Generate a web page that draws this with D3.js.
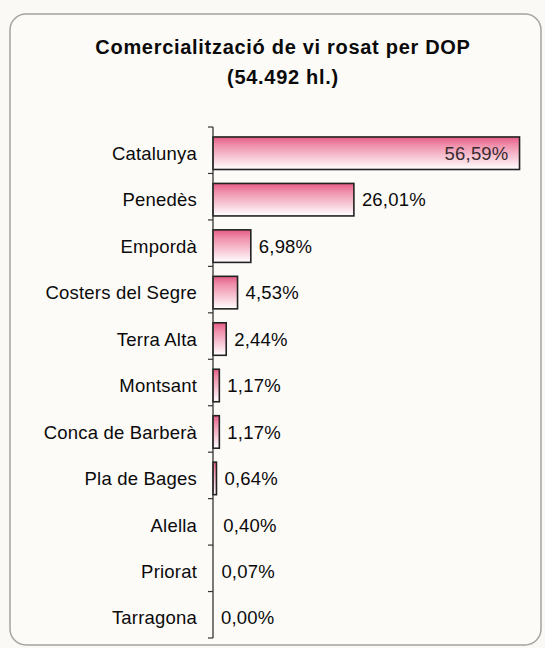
<!DOCTYPE html>
<html>
<head>
  <meta charset="utf-8">
  <title>Comercialització de vi rosat per DOP</title>
  <script src="https://d3js.org/d3.v7.min.js"></script>
  <style>
    body { margin: 0; background: #fbf9f5; }
    svg { display: block; font-family: "Liberation Sans", Arial, sans-serif; }
  </style>
</head>
<body>
  <div id="chart"></div>
  <script>
    // Dades llegides del gràfic
    var titleLines = ["Comercialització de vi rosat per DOP", "(54.492 hl.)"];
    var categories = ["Catalunya", "Penedès", "Empordà", "Costers del Segre", "Terra Alta",
      "Montsant", "Conca de Barberà", "Pla de Bages", "Alella", "Priorat", "Tarragona"];
    var values = [56.59, 26.01, 6.98, 4.53, 2.44, 1.17, 1.17, 0.64, 0.40, 0.07, 0.00];

    var data = categories.map(function (c, i) { return { label: c, value: values[i] }; });

    var width = 545, height = 648;

    var svg = d3.select("#chart")
      .append("svg")
      .attr("width", width)
      .attr("height", height);

    // degradat rosa -> blanc
    var grad = svg.append("defs").append("linearGradient")
      .attr("id", "barGrad")
      .attr("x1", 0).attr("y1", 0).attr("x2", 0).attr("y2", 1);
    grad.append("stop").attr("offset", "0%").attr("stop-color", "#e55b86");
    grad.append("stop").attr("offset", "25%").attr("stop-color", "#ef8fab");
    grad.append("stop").attr("offset", "100%").attr("stop-color", "#ffffff");

    // marc arrodonit
    svg.append("rect")
      .attr("x", 10).attr("y", 14)
      .attr("width", 531).attr("height", 631)
      .attr("rx", 16).attr("ry", 16)
      .attr("fill", "#fdfbf8")
      .attr("stroke", "#a3a3a3")
      .attr("stroke-width", 1.5);

    // títol
    svg.append("g").selectAll("text")
      .data(titleLines)
      .join("text")
      .attr("x", 283)
      .attr("y", function (d, i) { return 54 + i * 30; })
      .attr("text-anchor", "middle")
      .attr("font-size", "20px")
      .attr("font-weight", "bold")
      .attr("letter-spacing", "0.7px")
      .attr("fill", "#0a0a0a")
      .text(function (d) { return d; });

    var xScale = d3.scaleLinear().domain([0, 60]).range([213, 538]);
    var yScale = d3.scaleBand()
      .domain(categories)
      .range([127, 638])
      .paddingInner(0.3)
      .paddingOuter(0.15);

    // barres (les de menys de mig punt no es veuen)
    svg.selectAll(".bar")
      .data(data.filter(function (d) { return d.value > 0.5; }))
      .join("rect")
      .attr("class", "bar")
      .attr("x", xScale(0))
      .attr("y", function (d) { return yScale(d.label) + 3; })
      .attr("width", function (d) { return xScale(d.value) - xScale(0); })
      .attr("height", yScale.bandwidth())
      .attr("fill", "url(#barGrad)")
      .attr("stroke", "#222")
      .attr("stroke-width", 1.6);

    // eix vertical
    var axis = svg.append("g")
      .attr("transform", "translate(" + xScale(0) + ",0)");
    axis.append("line")
      .attr("x1", 0).attr("x2", 0)
      .attr("y1", 127).attr("y2", 638)
      .attr("stroke", "#333")
      .attr("stroke-width", 1.3);
    axis.selectAll(".tick")
      .data(d3.range(categories.length + 1))
      .join("line")
      .attr("class", "tick")
      .attr("x1", -5).attr("x2", 0)
      .attr("y1", function (i) { return 127 + i * ((638 - 127) / categories.length); })
      .attr("y2", function (i) { return 127 + i * ((638 - 127) / categories.length); })
      .attr("stroke", "#333")
      .attr("stroke-width", 1.2);

    // etiquetes de categoria
    svg.selectAll(".cat")
      .data(data)
      .join("text")
      .attr("class", "cat")
      .attr("x", 197)
      .attr("y", function (d) { return yScale(d.label) + 3 + yScale.bandwidth() / 2; })
      .attr("dy", "0.36em")
      .attr("text-anchor", "end")
      .attr("font-size", "18.5px")
      .attr("letter-spacing", "0.2px")
      .attr("fill", "#0a0a0a")
      .text(function (d) { return d.label; });

    // etiquetes de valor
    var fmt = function (v) { return d3.format(".2f")(v).replace(".", ",") + "%"; };
    svg.selectAll(".val")
      .data(data)
      .join("text")
      .attr("class", "val")
      .attr("x", function (d, i) { return i === 0 ? xScale(d.value) - 11 : xScale(d.value) + 8; })
      .attr("y", function (d) { return yScale(d.label) + 3 + yScale.bandwidth() / 2; })
      .attr("dy", "0.36em")
      .attr("text-anchor", function (d, i) { return i === 0 ? "end" : "start"; })
      .attr("font-size", "18.5px")
      .attr("letter-spacing", "0.2px")
      .attr("fill", function (d, i) { return i === 0 ? "#3a2a2e" : "#0a0a0a"; })
      .text(function (d) { return fmt(d.value); });
  </script>
</body>
</html>
